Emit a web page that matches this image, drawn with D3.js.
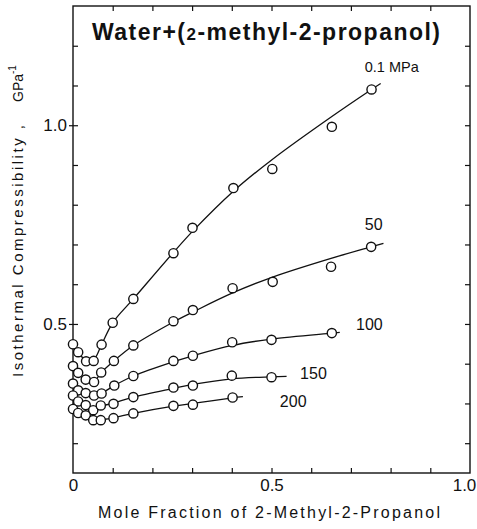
<!DOCTYPE html>
<html>
<head>
<meta charset="utf-8">
<script src="https://cdn.jsdelivr.net/npm/d3@7"></script>
<style>
  body { margin: 0; background: #fff; }
  text { font-family: "Liberation Sans", Arial, sans-serif; fill: #111; }
</style>
</head>
<body>
<svg id="chart" width="477" height="529"></svg>
<script>
// mole fraction of 2-methyl-2-propanol and measured points, per pressure
var x01 = [0, 0.013, 0.033, 0.052, 0.072, 0.1, 0.152, 0.253, 0.301, 0.404, 0.502, 0.652, 0.752];
var y01 = [0.449, 0.429, 0.406, 0.407, 0.448, 0.503, 0.563, 0.678, 0.742, 0.842, 0.890, 0.996, 1.090];
var fit01 = [0.449, 0.429, 0.408, 0.410, 0.448, 0.503, 0.563, 0.680, 0.733, 0.834, 0.914, 1.022, 1.090];

var x50 = [0, 0.013, 0.032, 0.053, 0.071, 0.103, 0.152, 0.253, 0.302, 0.402, 0.503, 0.650, 0.751];
var y50 = [0.394, 0.377, 0.360, 0.354, 0.378, 0.407, 0.446, 0.507, 0.535, 0.590, 0.606, 0.644, 0.694];
var fit50 = [0.394, 0.377, 0.360, 0.356, 0.378, 0.407, 0.446, 0.505, 0.530, 0.578, 0.618, 0.665, 0.694];

var x100 = [0, 0.013, 0.032, 0.053, 0.072, 0.104, 0.152, 0.253, 0.302, 0.401, 0.500, 0.652];
var y100 = [0.350, 0.333, 0.326, 0.320, 0.325, 0.345, 0.369, 0.407, 0.420, 0.454, 0.460, 0.477];
var fit100 = [0.350, 0.333, 0.326, 0.321, 0.326, 0.345, 0.369, 0.405, 0.420, 0.446, 0.462, 0.477];

var x150 = [0, 0.013, 0.032, 0.051, 0.070, 0.102, 0.152, 0.253, 0.302, 0.400, 0.500];
var y150 = [0.320, 0.305, 0.296, 0.283, 0.295, 0.299, 0.316, 0.340, 0.345, 0.370, 0.366];
var fit150 = [0.320, 0.305, 0.294, 0.287, 0.293, 0.301, 0.316, 0.338, 0.348, 0.362, 0.367];

var x200 = [0, 0.013, 0.032, 0.051, 0.070, 0.102, 0.152, 0.253, 0.302, 0.402];
var y200 = [0.286, 0.276, 0.270, 0.258, 0.258, 0.263, 0.275, 0.294, 0.297, 0.315];
var fit200 = [0.286, 0.276, 0.268, 0.260, 0.259, 0.264, 0.275, 0.293, 0.300, 0.314];

// where each fitted line stops past its last point
var tailX = [0.775, 0.782, 0.672, 0.538, 0.428];
var tailY = [1.105, 0.703, 0.479, 0.368, 0.317];

var pressureLabels = ['0.1 MPa', '50', '100', '150', '200'];
var labelX = [0.735, 0.735, 0.713, 0.572, 0.521];
var labelY = [1.134, 0.736, 0.485, 0.362, 0.291];

var xTicks = [0, 0.5, 1.0];
var yTicks = [0.5, 1.0];

function drawChart() {
	var svg = d3.select('#chart'),
		mLeft = 73, mRight = 470, mTop = 6, mBottom = 473;

	var scaleX = d3.scaleLinear().domain([0, 1]).range([mLeft, mRight]);
	var scaleY = d3.scaleLinear().domain([0.125, 1.3]).range([mBottom, mTop]);

	var series = [
		{ x: x01, y: y01, fit: fit01 },
		{ x: x50, y: y50, fit: fit50 },
		{ x: x100, y: y100, fit: fit100 },
		{ x: x150, y: y150, fit: fit150 },
		{ x: x200, y: y200, fit: fit200 }
	];

	// frame
	svg.append('rect')
		.attr('x', mLeft).attr('y', mTop)
		.attr('width', mRight - mLeft).attr('height', mBottom - mTop)
		.attr('fill', 'none').attr('stroke', '#111').attr('stroke-width', 1.4);

	// minor ticks every 0.1, inward on all four sides
	var minorX = d3.range(1, 10).map(function(i) { return i / 10; });
	var minorY = d3.range(2, 13).map(function(i) { return i / 10; });

	var axes = [
		[d3.axisBottom(scaleX).tickValues(minorX), 'translate(0,' + mBottom + ')'],
		[d3.axisTop(scaleX).tickValues(minorX), 'translate(0,' + mTop + ')'],
		[d3.axisLeft(scaleY).tickValues(minorY), 'translate(' + mLeft + ',0)'],
		[d3.axisRight(scaleY).tickValues(minorY), 'translate(' + mRight + ',0)']
	];
	axes.forEach(function(a) {
		var g = svg.append('g').attr('transform', a[1]).call(a[0].tickSize(-5).tickFormat(''));
		g.select('.domain').remove();
		g.selectAll('line').attr('stroke', '#111').attr('stroke-width', 1.2);
	});

	// tick labels
	var xLbl = svg.append('g').attr('transform', 'translate(0,' + mBottom + ')')
		.call(d3.axisBottom(scaleX).tickValues(xTicks).tickSize(0).tickPadding(6)
			.tickFormat(function(d) { return d === 0 ? '0' : d3.format('.1f')(d); }));
	xLbl.select('.domain').remove();
	xLbl.selectAll('text').attr('font-size', 17).attr('fill', '#111')
		.attr('dx', function(d) { return d === 1 ? -6 : 0; })
		.style('font-family', '"Liberation Sans", Arial, sans-serif');

	var yLbl = svg.append('g').attr('transform', 'translate(' + mLeft + ',0)')
		.call(d3.axisLeft(scaleY).tickValues(yTicks).tickSize(4).tickPadding(2).tickFormat(d3.format('.1f')));
	yLbl.select('.domain').remove();
	yLbl.selectAll('line').attr('stroke', '#111').attr('stroke-width', 1.2);
	yLbl.selectAll('text').attr('font-size', 17).attr('fill', '#111')
		.style('font-family', '"Liberation Sans", Arial, sans-serif');

	// fitted curves
	var line = d3.line()
		.x(function(d) { return scaleX(d[0]); })
		.y(function(d) { return scaleY(d[1]); })
		.curve(d3.curveCatmullRom.alpha(0.5));

	series.forEach(function(s, i) {
		var pts = s.x.map(function(v, j) { return [v, s.fit[j]]; });
		pts.push([tailX[i], tailY[i]]);
		svg.append('path').datum(pts)
			.attr('d', line).attr('fill', 'none')
			.attr('stroke', '#111').attr('stroke-width', 1.3);
	});

	// data points
	series.forEach(function(s) {
		svg.append('g').selectAll('circle')
			.data(s.x.map(function(v, j) { return [v, s.y[j]]; }))
			.enter().append('circle')
			.attr('cx', function(d) { return scaleX(d[0]); })
			.attr('cy', function(d) { return scaleY(d[1]); })
			.attr('r', 4.6)
			.attr('fill', '#fff').attr('stroke', '#111').attr('stroke-width', 1.4);
	});

	// pressure labels
	pressureLabels.forEach(function(t, i) {
		svg.append('text')
			.attr('x', scaleX(labelX[i])).attr('y', scaleY(labelY[i]))
			.attr('font-size', i === 0 ? 14.5 : 16)
			.text(t);
	});

	// title
	var title = svg.append('text').attr('x', 92).attr('y', 40)
		.attr('font-size', 23).attr('font-weight', 'bold')
		.attr('textLength', 348).attr('lengthAdjust', 'spacing');
	title.append('tspan').text('Water+(');
	title.append('tspan').attr('font-size', 17).text('2');
	title.append('tspan').text('-methyl-2-propanol)');

	// axis titles
	svg.append('text')
		.attr('x', 98).attr('y', 518)
		.attr('font-size', 16)
		.attr('textLength', 342).attr('lengthAdjust', 'spacing')
		.text('Mole Fraction of 2-Methyl-2-Propanol');

	svg.append('text')
		.attr('transform', 'translate(23,377) rotate(-90)')
		.attr('font-size', 15)
		.attr('textLength', 252).attr('lengthAdjust', 'spacing')
		.text('Isothermal Compressibility ,');

	var gpa = svg.append('text')
		.attr('transform', 'translate(23,102) rotate(-90)')
		.attr('font-size', 14);
	gpa.append('tspan').text('GPa');
	gpa.append('tspan').attr('font-size', 10).attr('dy', -7).text('-1');
}
drawChart();
</script>
</body>
</html>
